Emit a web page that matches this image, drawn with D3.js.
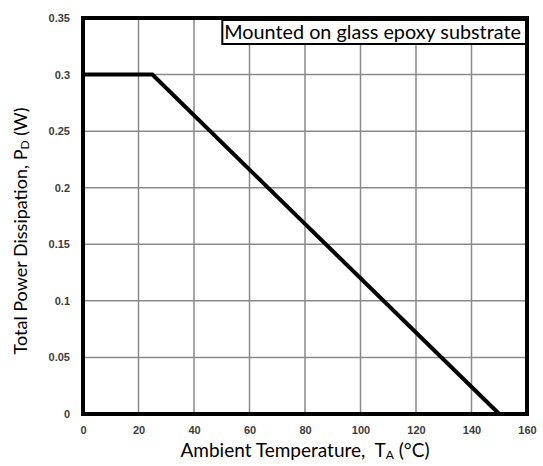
<!DOCTYPE html>
<html lang="en">
  <head>
    <meta charset="utf-8" />
    <script src="https://d3js.org/d3.v7.min.js"></script>
    <style>
      body { margin: 0; background: #fff; }
      .tick text { font-family: 'Liberation Sans', Arial, sans-serif; font-weight: bold; font-size: 11px; fill: #3c3c3c; }
      .title { font-family: Lato, 'Open Sans', sans-serif; font-size: 18px; fill: #000; white-space: pre; }
    </style>
  </head>
  <body>
    <div id="chart"></div>
    <script>
      // data //---------------------------------------------------------
      var temp = [0, 25, 150];          // ambient temperature (°C)
      var power = [0.3, 0.3, 0];        // total power dissipation (W)
      var x_ticks = [0, 20, 40, 60, 80, 100, 120, 140, 160];
      var y_ticks = [0, 0.05, 0.1, 0.15, 0.2, 0.25, 0.3, 0.35];
      var y_tick_labels = ['0', '0.05', '0.1', '0.15', '0.2', '0.25', '0.3', '0.35'];
      var note = 'Mounted on glass epoxy substrate';

      // layout
      var W = 543, H = 466;
      var margin = { top: 18, right: 16, bottom: 52, left: 83 };
      var width = W - margin.left - margin.right;
      var height = H - margin.top - margin.bottom;

      var svg = d3.select('#chart').append('svg').attr('width', W).attr('height', H);
      var plot = svg.append('g').attr('transform', `translate(${margin.left},${margin.top})`);

      var x = d3.scaleLinear().domain([0, 160]).range([0, width]);
      var y = d3.scaleLinear().domain([0, 0.35]).range([height, 0]);

      // grid
      plot.append('g').selectAll('line').data(x_ticks).join('line')
        .attr('x1', d => x(d)).attr('x2', d => x(d))
        .attr('y1', 0).attr('y2', height)
        .attr('stroke', '#8a8a8a').attr('stroke-width', 1.5);
      plot.append('g').selectAll('line').data(y_ticks).join('line')
        .attr('x1', 0).attr('x2', width)
        .attr('y1', d => y(d)).attr('y2', d => y(d))
        .attr('stroke', '#8a8a8a').attr('stroke-width', 1.5);

      // axes (labels only)
      plot.append('g')
        .attr('transform', `translate(0,${height + 4})`)
        .call(d3.axisBottom(x).tickValues(x_ticks).tickSize(0).tickPadding(8).tickFormat(d3.format('d')))
        .call(g => g.select('.domain').remove());
      plot.append('g')
        .attr('transform', 'translate(-4,0)')
        .call(d3.axisLeft(y).tickValues(y_ticks).tickSize(0).tickPadding(9)
          .tickFormat((d, i) => y_tick_labels[i]))
        .call(g => g.select('.domain').remove());

      // note box, starts a little past 50 °C and runs to the right edge
      var box_x = x(50.2);
      var nb = plot.append('g');
      nb.append('rect')
        .attr('x', box_x).attr('y', 2)
        .attr('width', width - box_x).attr('height', 24)
        .attr('fill', '#fff').attr('stroke', '#000').attr('stroke-width', 2);
      nb.append('text')
        .attr('class', 'title')
        .style('font-size', '19.8px')
        .attr('x', box_x + 2).attr('y', 21)
        .text(note);

      // derating curve
      plot.append('path')
        .datum(temp.map((t, i) => [t, power[i]]))
        .attr('fill', 'none')
        .attr('stroke', '#000')
        .attr('stroke-width', 4)
        .attr('d', d3.line().x(d => x(d[0])).y(d => y(d[1])));

      // frame
      plot.append('rect')
        .attr('x', 0).attr('y', 0).attr('width', width).attr('height', height)
        .attr('fill', 'none').attr('stroke', '#000').attr('stroke-width', 4);

      // axis titles
      var xt = svg.append('text').attr('class', 'title')
        .style('font-size', '19px')
        .attr('x', 305).attr('y', 457)
        .attr('text-anchor', 'middle');
      xt.append('tspan').text('Ambient Temperature,  T');
      xt.append('tspan').attr('font-size', '12px').attr('dy', 2).text('A');
      xt.append('tspan').attr('dy', -2).text(' (°C)');

      var yt = svg.append('text').attr('class', 'title')
        .attr('transform', 'translate(27,231) rotate(-90)')
        .attr('text-anchor', 'middle');
      yt.append('tspan').text('Total Power Dissipation, P');
      yt.append('tspan').attr('font-size', '12px').attr('dy', 2).text('D');
      yt.append('tspan').attr('dy', -2).text(' (W)');
    </script>
  </body>
</html>
